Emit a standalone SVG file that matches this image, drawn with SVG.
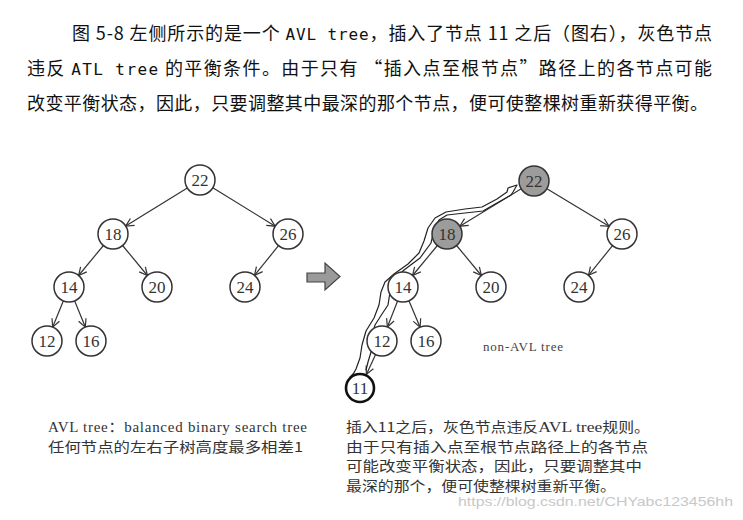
<svg xmlns="http://www.w3.org/2000/svg" width="743" height="520" viewBox="0 0 743 520">
<defs>
<marker id="ah" markerUnits="userSpaceOnUse" markerWidth="12" markerHeight="12" refX="9" refY="5" orient="auto">
<path d="M1,1 L9,5 L1,9" fill="none" stroke="#333" stroke-width="1.2"/>
</marker>
</defs>
<style>
.nd{fill:#fff;stroke:#333;stroke-width:1.5}
.gr{fill:#9c9c9c;stroke:#333;stroke-width:1.5}
.nt{font-family:"Liberation Serif",serif;font-size:17px;fill:#333;text-anchor:middle}
.ed{stroke:#333;stroke-width:1.2;fill:none;marker-end:url(#ah)}
.top{font-family:"Noto Sans CJK SC",sans-serif;font-size:18px;fill:#111}
.mono{font-family:"DejaVu Sans Mono",monospace;font-size:16px}
.bt{font-family:"Noto Sans CJK SC",sans-serif;font-size:13.5px;fill:#333}
.lat{font-family:"Liberation Serif","Noto Sans CJK SC",serif;font-size:15px;fill:#333}
.rib{fill:none;stroke:#222;stroke-width:1.2;stroke-linejoin:round;stroke-linecap:round}
</style>
<rect width="743" height="520" fill="#fff"/>

<text class="top" x="72" y="40" textLength="640" lengthAdjust="spacing">图 5-8 左侧所示的是一个 <tspan class="mono">AVL tree</tspan>，插入了节点 11 之后（图右），灰色节点</text>
<text class="top" x="27" y="75" textLength="685" lengthAdjust="spacing">违反 <tspan class="mono">ATL tree</tspan> 的平衡条件。由于只有 “插入点至根节点”路径上的各节点可能</text>
<text class="top" x="27" y="110" textLength="681" lengthAdjust="spacing">改变平衡状态，因此，只要调整其中最深的那个节点，便可使整棵树重新获得平衡。</text>

<g id="connectors">
<line class="ed" x1="187.3" y1="187.9" x2="125.7" y2="226.1"/>
<line class="ed" x1="212.8" y1="187.8" x2="275.2" y2="226.2"/>
<line class="ed" x1="103.4" y1="245.5" x2="78.6" y2="275.5"/>
<line class="ed" x1="122.6" y1="245.5" x2="147.4" y2="275.5"/>
<line class="ed" x1="278.5" y1="245.7" x2="254.5" y2="275.3"/>
<line class="ed" x1="63.3" y1="300.9" x2="52.7" y2="327.1"/>
<line class="ed" x1="74.7" y1="300.9" x2="85.3" y2="327.1"/>
<line class="ed" x1="521.2" y1="188.8" x2="459.8" y2="226.2"/>
<line class="ed" x1="546.9" y1="188.7" x2="609.1" y2="226.3"/>
<line class="ed" x1="437.4" y1="245.5" x2="412.6" y2="275.5"/>
<line class="ed" x1="456.6" y1="245.5" x2="481.4" y2="275.5"/>
<line class="ed" x1="612.5" y1="245.7" x2="588.5" y2="275.3"/>
<line class="ed" x1="397.6" y1="301" x2="387.4" y2="327"/>
<line class="ed" x1="408.9" y1="300.8" x2="420.1" y2="327.2"/>
<line class="ed" x1="375.6" y1="354.6" x2="366.4" y2="374.4"/>
</g>

<g id="left-tree">
<g id="L22"><circle class="nd" cx="200" cy="180" r="15"/><text class="nt" x="200" y="186">22</text></g>
<g id="L18"><circle class="nd" cx="113" cy="234" r="15"/><text class="nt" x="113" y="240">18</text></g>
<g id="L26"><circle class="nd" cx="288" cy="234" r="15"/><text class="nt" x="288" y="240">26</text></g>
<g id="L14"><circle class="nd" cx="69" cy="287" r="15"/><text class="nt" x="69" y="293">14</text></g>
<g id="L20"><circle class="nd" cx="157" cy="287" r="15"/><text class="nt" x="157" y="293">20</text></g>
<g id="L24"><circle class="nd" cx="245" cy="287" r="15"/><text class="nt" x="245" y="293">24</text></g>
<g id="L12"><circle class="nd" cx="47" cy="341" r="15"/><text class="nt" x="47" y="347">12</text></g>
<g id="L16"><circle class="nd" cx="91" cy="341" r="15"/><text class="nt" x="91" y="347">16</text></g>
</g>

<g id="arrow">
<polygon points="307,273 325,273 325,263 340,276.5 325,290 325,282 307,282" fill="#9a9a9a" stroke="#444" stroke-width="1.2"/>
</g>

<g id="path-ribbon">
<path class="rib" d="M350,377 Q354,374 356,369 L360,358 L362,345 L366,331 L374,318 L379,305 L381,292 L385,282 L394,274 L408,264 L419,253 L424,241 L428,228 L435,218 L446,212 L465,209 L482,207 L497,199 L507,192 L508,188 L517,185 L513,192 L511,195 L497,203 L483,211 L465,213 L447,215 L439,220 L434,230 L431,243 L420,258 L404,270 L394,280 L390,292 L388,305 L382,314 L375,325 L371,340 L371,352 L368,362 L366,370"/>
</g>

<g id="right-tree">
<g id="R22"><circle class="gr" cx="534" cy="181" r="15"/><text class="nt" x="534" y="187">22</text></g>
<g id="R18"><circle class="gr" cx="447" cy="234" r="15"/><text class="nt" x="447" y="240">18</text></g>
<g id="R26"><circle class="nd" cx="622" cy="234" r="15"/><text class="nt" x="622" y="240">26</text></g>
<g id="R14"><circle class="nd" cx="403" cy="287" r="15"/><text class="nt" x="403" y="293">14</text></g>
<g id="R20"><circle class="nd" cx="491" cy="287" r="15"/><text class="nt" x="491" y="293">20</text></g>
<g id="R24"><circle class="nd" cx="579" cy="287" r="15"/><text class="nt" x="579" y="293">24</text></g>
<g id="R12"><circle class="nd" cx="382" cy="341" r="15"/><text class="nt" x="382" y="347">12</text></g>
<g id="R16"><circle class="nd" cx="426" cy="341" r="15"/><text class="nt" x="426" y="347">16</text></g>
<g id="R11"><circle cx="360" cy="388" r="14" fill="#fff" stroke="#111" stroke-width="2.6"/><text class="nt" x="360" y="394">11</text></g>
</g>

<text x="483" y="351" font-family="Liberation Serif,serif" font-size="13" fill="#444" textLength="80" lengthAdjust="spacing">non-AVL tree</text>

<text class="lat" x="48" y="432" textLength="259" lengthAdjust="spacing">AVL tree：balanced binary search tree</text>
<text class="bt" x="48" y="452" textLength="255" lengthAdjust="spacingAndGlyphs">任何节点的左右子树高度最多相差1</text>

<text class="bt" x="346" y="432" textLength="304" lengthAdjust="spacingAndGlyphs">插入11之后，灰色节点违反<tspan font-family="Liberation Serif,serif" font-size="15">AVL tree</tspan>规则。</text>
<text class="bt" x="346" y="451.5" textLength="302" lengthAdjust="spacingAndGlyphs">由于只有插入点至根节点路径上的各节点</text>
<text class="bt" x="346" y="471" textLength="296" lengthAdjust="spacingAndGlyphs">可能改变平衡状态，因此，只要调整其中</text>
<text class="bt" x="346" y="490.5" textLength="270" lengthAdjust="spacingAndGlyphs">最深的那个，便可使整棵树重新平衡。</text>

<text x="458" y="506" font-family="Liberation Sans,sans-serif" font-size="13" fill="#c8c8c8" textLength="275" lengthAdjust="spacingAndGlyphs">https://blog.csdn.net/CHYabc123456hh</text>
</svg>
